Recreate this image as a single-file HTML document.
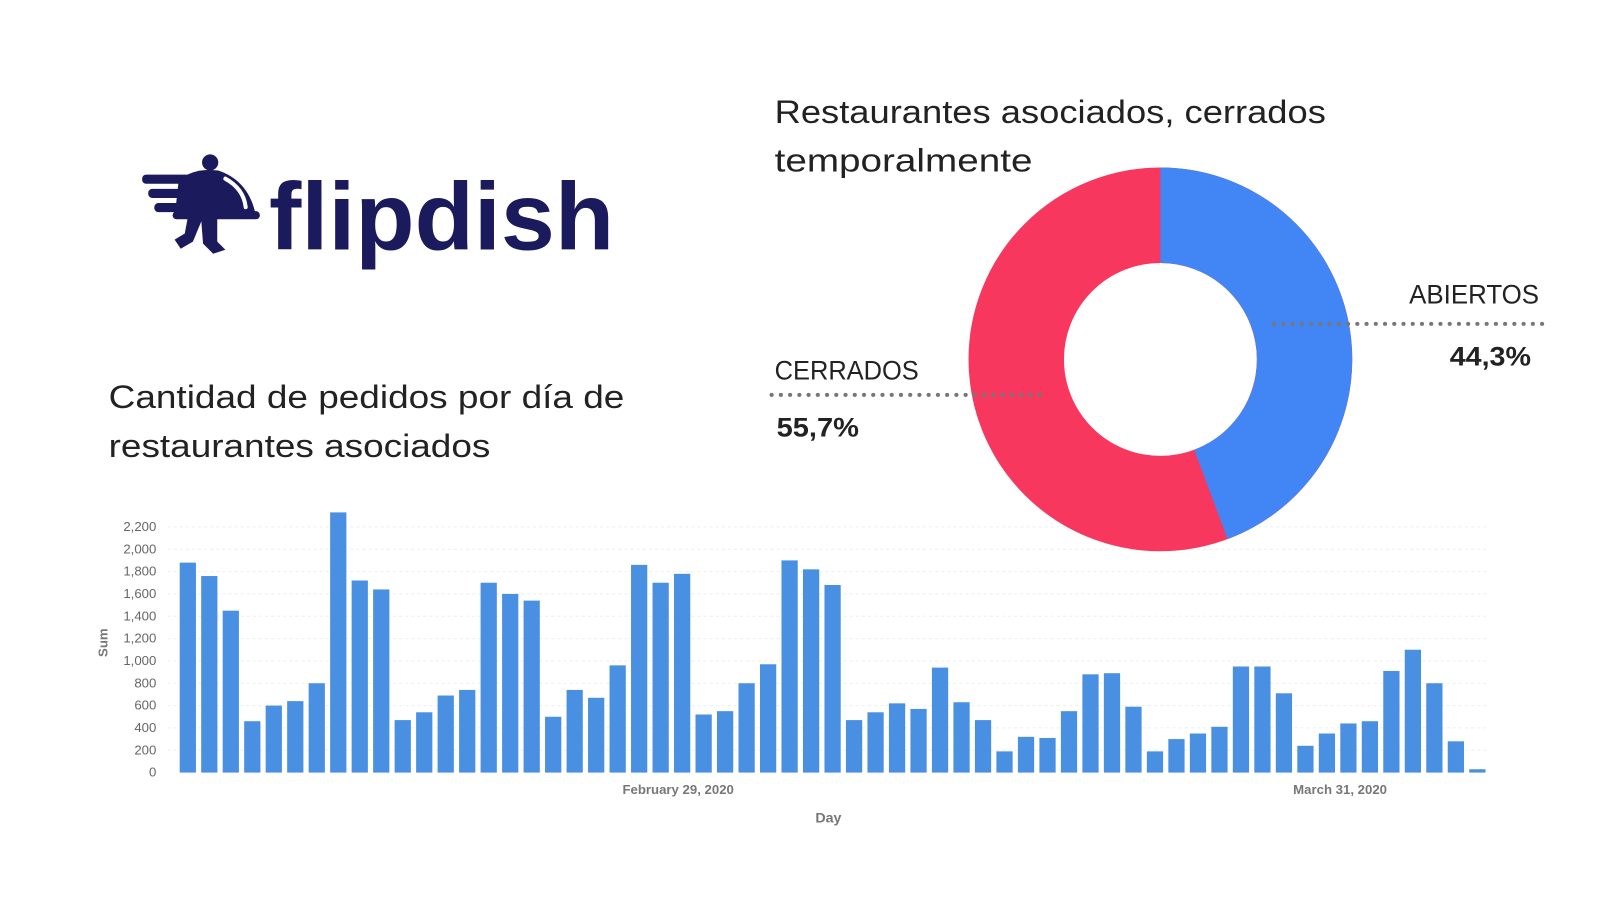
<!DOCTYPE html>
<html><head><meta charset="utf-8"><style>
html,body{margin:0;padding:0;background:#fff;}
svg{display:block;font-family:"Liberation Sans",sans-serif;}
</style></head><body>
<svg id="s" width="1600" height="900" viewBox="0 0 1576 886.5" xmlns="http://www.w3.org/2000/svg">
<rect width="1600" height="900" fill="#fff"/>
<!-- bar chart grid (behind donut) -->
<g id="grid"></g>
<!-- logo -->
<g fill="#1b1a5c">
  <circle cx="207" cy="160" r="8"/>
  <path d="M176 178 Q190 165 215 168 Q245 178 252 212 L172 214 Z"/>
  <rect x="140" y="172" width="60" height="9" rx="4"/>
  <rect x="146" y="186" width="54" height="9" rx="4"/>
  <rect x="152" y="200" width="48" height="9" rx="4"/>
  <rect x="170" y="208" width="86" height="8" rx="4"/>
  <path d="M185 214 L200 214 L190 238 L178 245 L172 236 L182 230 Z"/>
  <path d="M198 214 L214 214 L214 238 L222 246 L210 250 L200 240 Z"/>
</g>
<path d="M222 176 Q240 186 242 204" stroke="#fff" stroke-width="4" fill="none" stroke-linecap="round"/>
<text x="265" y="246" font-size="94" font-weight="bold" fill="#1b1a5c" textLength="340" lengthAdjust="spacingAndGlyphs">flipdish</text>
<!-- titles -->
<text x="763" y="121" font-size="32" fill="#222" textLength="543" lengthAdjust="spacingAndGlyphs">Restaurantes asociados, cerrados</text>
<text x="763" y="169" font-size="32" fill="#222" textLength="254" lengthAdjust="spacingAndGlyphs">temporalmente</text>
<text x="107" y="402" font-size="32" fill="#222" textLength="508" lengthAdjust="spacingAndGlyphs">Cantidad de pedidos por día de</text>
<text x="107" y="450" font-size="32" fill="#222" textLength="376" lengthAdjust="spacingAndGlyphs">restaurantes asociados</text>
<!-- donut -->
<g transform="translate(5,0)">
<circle cx="1138" cy="354" r="142" fill="none" stroke="#f7375e" stroke-width="94"/>
<path d="M1138 165 A189 189 0 0 1 1204.2 531 L1171.3 443 A95 95 0 0 0 1138 259 Z" fill="#4285f4"/>
</g>
<line x1="760" y1="389" x2="1025" y2="389" stroke="#777" stroke-width="4" stroke-dasharray="0.1 9" stroke-linecap="round"/>
<line x1="1255" y1="319" x2="1520" y2="319" stroke="#777" stroke-width="4" stroke-dasharray="0.1 9" stroke-linecap="round"/>
<text x="763" y="374" font-size="26" fill="#222" textLength="142" lengthAdjust="spacingAndGlyphs">CERRADOS</text>
<text x="765" y="430" font-size="26" font-weight="bold" fill="#222" textLength="81" lengthAdjust="spacingAndGlyphs">55,7%</text>
<text x="1388" y="299" font-size="26" fill="#222" textLength="128" lengthAdjust="spacingAndGlyphs">ABIERTOS</text>
<text x="1428" y="360" font-size="26" font-weight="bold" fill="#222" textLength="80" lengthAdjust="spacingAndGlyphs">44,3%</text>
<!-- bars -->
<g id="ticks"></g>
<g id="bars" fill="#4a90e2"></g>
<text x="106" y="633" font-size="13" fill="#777" font-weight="bold" transform="rotate(-90 106 633)" text-anchor="middle">Sum</text>
<text x="668" y="782" font-size="13" fill="#777" font-weight="bold" text-anchor="middle">February 29, 2020</text>
<text x="1320" y="782" font-size="13" fill="#777" font-weight="bold" text-anchor="middle">March 31, 2020</text>
<text x="816" y="810" font-size="14" fill="#777" font-weight="bold" text-anchor="middle">Day</text>
</svg>
<script>
var NS="http://www.w3.org/2000/svg";
var v=[1880,1760,1450,460,600,640,800,2330,1720,1640,470,540,690,740,1700,1600,1540,500,740,670,960,1860,1700,1780,520,550,800,970,1900,1820,1680,470,540,620,570,940,630,470,190,320,310,550,880,890,590,190,300,350,410,950,950,710,240,350,440,460,910,1100,800,280,30];
var base=761,k=0.11,g=document.getElementById('grid'),tk=document.getElementById('ticks'),b=document.getElementById('bars');
for(var t=0;t<=2200;t+=200){var y=base-t*k;
 if(t>0){var l=document.createElementNS(NS,'line');l.setAttribute('x1',165);l.setAttribute('x2',1465);l.setAttribute('y1',y);l.setAttribute('y2',y);l.setAttribute('stroke','#eee');l.setAttribute('stroke-dasharray','3 3');g.appendChild(l);}
 var tx=document.createElementNS(NS,'text');tx.setAttribute('x',154);tx.setAttribute('y',y+4);tx.setAttribute('font-size','13');tx.setAttribute('fill','#666');tx.setAttribute('text-anchor','end');tx.textContent=t.toLocaleString('en-US');tk.appendChild(tx);}
for(var i=0;i<v.length;i++){var h=v[i]*k;var r=document.createElementNS(NS,'rect');r.setAttribute('x',177+i*21.17);r.setAttribute('y',base-h);r.setAttribute('width',16);r.setAttribute('height',h);b.appendChild(r);}
</script>
</body></html>
